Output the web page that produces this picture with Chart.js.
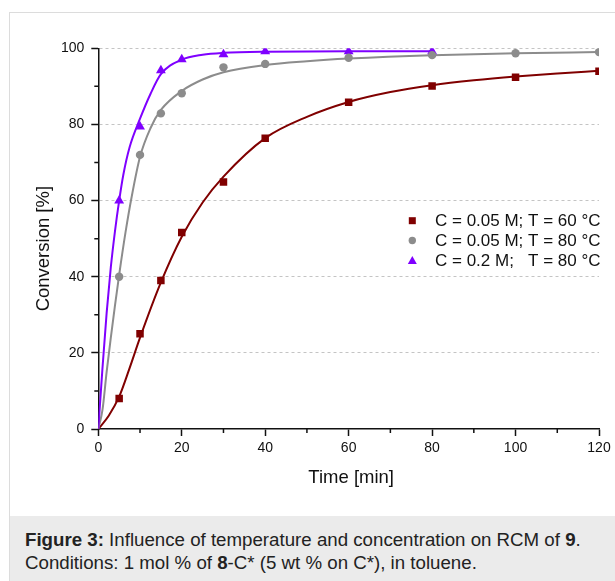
<!DOCTYPE html>
<html lang="en">
<head>
<meta charset="UTF-8">
<title>Figure 3 - Conversion vs time</title>
<script src="https://cdn.jsdelivr.net/npm/chart.js"></script>
<style>
    body { margin: 0; background: #fff; font-family: "Liberation Sans", Arial, sans-serif; }
    .figure { position: absolute; left: 9px; top: 12px; width: 640px; border: 1px solid #dcdcdc; background: #fff; }
    .chart-box { width: 605px; height: 503px; }
    .caption { background: #ebebeb; padding: 12px 0 20px 15px; font-size: 18.7px; line-height: 23px; color: #222; white-space: nowrap; }
</style>
</head>
<body>
<div class="figure">
    <div class="chart-box"><canvas id="grafico" width="605" height="503"></canvas></div>
    <div class="caption"><b>Figure 3:</b> Influence of temperature and concentration on RCM of <b>9</b>.<br>Conditions: 1 mol % of <b>8</b>-C* (5 wt % on C*), in toluene.</div>
</div>

<script>
// measured points
const tiempos = [5, 10, 15, 20, 30, 40, 60, 80, 100, 120];
const conv60 = [8, 25, 39, 51.6, 64.9, 76.4, 85.8, 90.1, 92.4, 94.0];
const conv80 = [40, 72, 82.9, 88.2, 95, 95.9, 97.5, 98.2, 98.7, 99.0];
const tiemposConc = [5, 10, 15, 20, 30, 40, 60, 80];
const convConc = [60, 79.4, 94.2, 97.1, 98.4, 99.2, 99.2, 99.2];

// fitted curves
const ajusteT60 = [0, 2.5, 5, 7.5, 10, 15, 20, 25, 30, 40, 50, 60, 70, 80, 90, 100, 110, 120];
const ajuste60 = [0, 3.5, 8.5, 16, 24, 38.5, 50.5, 59.5, 66.3, 76.4, 82, 85.9, 88.5, 90.3, 91.6, 92.6, 93.4, 94.1];
const ajusteT80 = [0, 1, 2, 3, 4, 5, 6.5, 8, 10, 12.5, 15, 20, 25, 30, 40, 50, 60, 80, 100, 120];
const ajuste80 = [0, 5, 15, 24, 32.5, 40.5, 51.5, 61, 71.5, 79, 83.8, 88.8, 91.8, 93.7, 95.6, 96.6, 97.3, 98.2, 98.7, 99];
const ajusteTConc = [0, 1, 2, 3, 4, 5, 6, 7.5, 10, 12.5, 15, 20, 25, 30, 40, 60, 80];
const ajusteConc = [0, 16, 30.5, 42.5, 52, 60, 66.8, 74, 81.5, 88, 93.2, 97, 98.3, 98.8, 99.1, 99.2, 99.2];

const etiquetas = ['C = 0.05 M; T = 60 °C', 'C = 0.05 M; T = 80 °C', 'C = 0.2 M;   T = 80 °C'];
const menoresX = [10, 30, 50, 70, 90, 110];
const menoresY = [10, 30, 50, 70, 90];

const rojo = '#800000';
const gris = '#8c8c8c';
const violeta = '#7f00ff';
const fuente = '"Liberation Sans", Arial, sans-serif';

function puntos(xs, ys) {
    return xs.map((x, i) => ({ x: x, y: ys[i] }));
}

// minor ticks, axis titles and the legend inside the plot
const extras = {
    id: 'extras',
    afterDraw(chart) {
        const ctx = chart.ctx;
        const sx = chart.scales.x;
        const sy = chart.scales.y;
        const area = chart.chartArea;
        ctx.save();

        ctx.strokeStyle = '#111';
        ctx.lineWidth = 1.5;
        ctx.beginPath();
        menoresX.forEach(v => {
            const px = sx.getPixelForValue(v);
            ctx.moveTo(px, area.bottom);
            ctx.lineTo(px, area.bottom + 4);
        });
        menoresY.forEach(v => {
            const py = sy.getPixelForValue(v);
            ctx.moveTo(area.left, py);
            ctx.lineTo(area.left - 4, py);
        });
        ctx.stroke();

        ctx.fillStyle = '#111';
        ctx.font = '18.5px ' + fuente;
        ctx.textAlign = 'center';
        ctx.textBaseline = 'alphabetic';
        ctx.fillText('Time [min]', (area.left + area.right) / 2 + 2.5, area.bottom + 54);
        ctx.save();
        ctx.translate(39, (area.top + area.bottom) / 2 + 10);
        ctx.rotate(-Math.PI / 2);
        ctx.fillText('Conversion [%]', 0, 0);
        ctx.restore();

        // legend
        const mx = area.left + 314;
        const tx = area.left + 336.7;
        ctx.font = '17px ' + fuente;
        ctx.textAlign = 'left';
        chart.data.datasets.filter(d => d.label).forEach((d, i) => {
            const cy = area.top + 172.4 + i * 19.8;
            ctx.fillStyle = d.backgroundColor;
            if (d.pointStyle === 'rect') {
                ctx.fillRect(mx - 3.5, cy - 3.5, 7, 7);
            } else if (d.pointStyle === 'circle') {
                ctx.beginPath();
                ctx.arc(mx, cy, 3.7, 0, Math.PI * 2);
                ctx.fill();
            } else {
                const r = 5.2;
                const c = cy + 1;
                ctx.beginPath();
                ctx.moveTo(mx, c - r);
                ctx.lineTo(mx + r * 0.866, c + r / 2);
                ctx.lineTo(mx - r * 0.866, c + r / 2);
                ctx.closePath();
                ctx.fill();
            }
            ctx.fillStyle = '#111';
            ctx.fillText(d.label, tx, cy + 5.6);
        });
        ctx.restore();
    }
};

const ctx = document.getElementById('grafico').getContext('2d');
new Chart(ctx, {
    type: 'scatter',
    data: {
        datasets: [
            { label: etiquetas[0], data: puntos(tiempos, conv60), pointStyle: 'rect', pointRadius: 5.3,
              backgroundColor: rojo, borderColor: rojo, borderWidth: 0, showLine: false },
            { label: etiquetas[1], data: puntos(tiempos, conv80), pointStyle: 'circle', pointRadius: 4.2,
              backgroundColor: gris, borderColor: gris, borderWidth: 0, showLine: false },
            { label: etiquetas[2], data: puntos(tiemposConc, convConc), pointStyle: 'triangle', pointRadius: 5.7,
              backgroundColor: violeta, borderColor: violeta, borderWidth: 0, showLine: false },
            { data: puntos(ajusteTConc, ajusteConc), showLine: true, pointRadius: 0, borderColor: violeta,
              borderWidth: 2, cubicInterpolationMode: 'monotone' },
            { data: puntos(ajusteT80, ajuste80), showLine: true, pointRadius: 0, borderColor: gris,
              borderWidth: 2, cubicInterpolationMode: 'monotone' },
            { data: puntos(ajusteT60, ajuste60), showLine: true, pointRadius: 0, borderColor: rojo,
              borderWidth: 2, cubicInterpolationMode: 'monotone' }
        ]
    },
    options: {
        responsive: false,
        animation: false,
        events: [],
        layout: { padding: { top: 35.3, right: 16, left: 0, bottom: 0 } },
        plugins: {
            legend: { display: false },
            tooltip: { enabled: false }
        },
        scales: {
            x: {
                type: 'linear',
                min: 0,
                max: 120,
                afterFit: s => { s.height = 87; },
                ticks: { stepSize: 20, padding: 4, color: '#111', font: { family: fuente, size: 14 } },
                grid: { drawOnChartArea: false, tickLength: 7, tickColor: '#111', tickWidth: 1.5, tickBorderDash: [] },
                border: { display: true, color: '#111', width: 1.5 }
            },
            y: {
                min: 0,
                max: 100,
                afterFit: s => { s.width = 88.3; },
                ticks: { stepSize: 20, padding: 7, color: '#111', font: { family: fuente, size: 14 } },
                grid: {
                    color: c => (c.tick && c.tick.value === 0) ? 'rgba(0,0,0,0)' : '#c4c4c4',
                    lineWidth: 1,
                    tickLength: 7, tickColor: '#111', tickWidth: 1.5, tickBorderDash: []
                },
                border: { display: true, color: '#111', width: 1.5, dash: [3, 3] }
            }
        }
    },
    plugins: [extras]
});
</script>
</body>
</html>
